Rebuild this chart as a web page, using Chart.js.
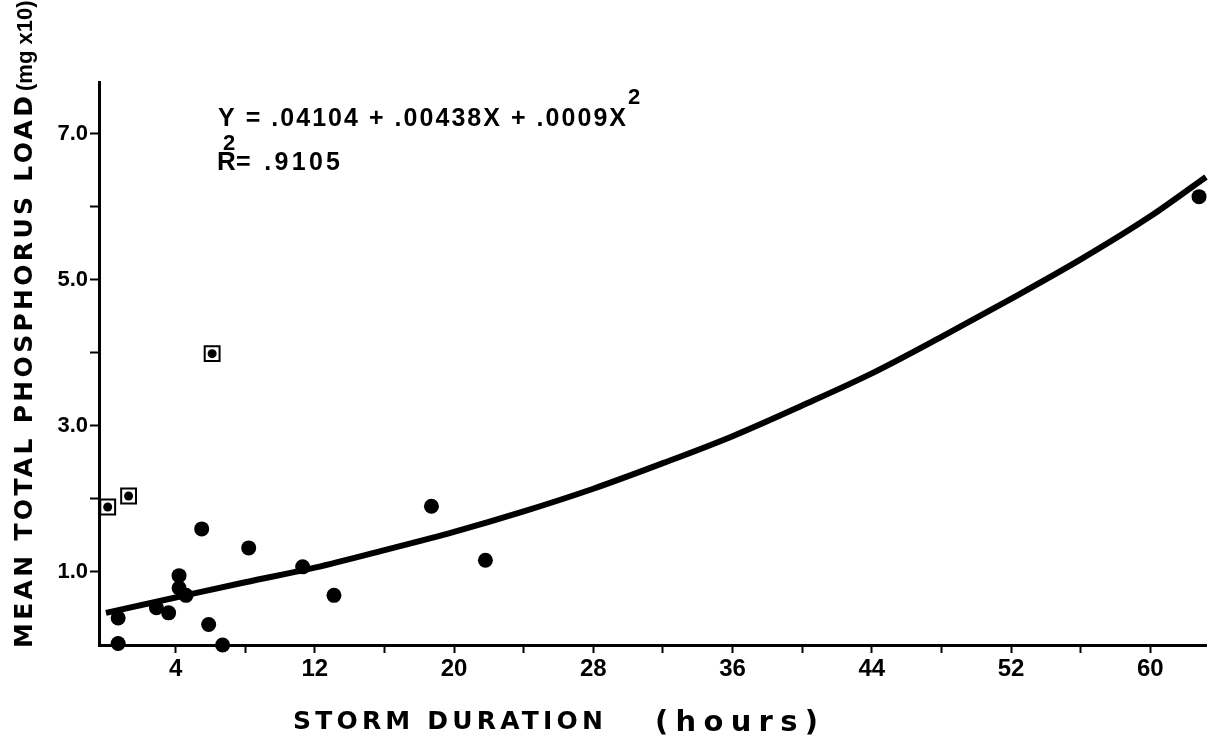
<!DOCTYPE html>
<html>
<head>
<meta charset="utf-8">
<script src="https://cdn.jsdelivr.net/npm/chart.js@4/dist/chart.umd.min.js"></script>
<style>
  html, body { margin: 0; padding: 0; background: #fff; }
  #wrap { width: 1208px; height: 740px; position: relative; }
</style>
</head>
<body>
<div id="wrap"><canvas id="grafico" width="1208" height="740"></canvas></div>
<script>
// valores (horas x carga media de fosforo total, mg x10)
const durationHours = [0.7, 0.7, 2.9, 3.6, 4.2, 4.2, 4.6, 5.5, 5.9, 6.7, 8.2, 11.3, 13.1, 18.7, 21.8, 62.8];
const phosphorusLoad = [0.37, 0.02, 0.51, 0.44, 0.95, 0.78, 0.68, 1.59, 0.28, 0.0, 1.33, 1.07, 0.68, 1.90, 1.16, 6.14];

// pontos marcados com quadrado
const flaggedHours = [0.1, 1.3, 6.1];
const flaggedLoad = [1.89, 2.04, 3.99];

// curva ajustada
const curveHours = [0, 4, 8, 12, 16, 20, 24, 28, 32, 36, 40, 44, 48, 52, 56, 60, 63.2];
const curveLoad = [0.44, 0.65, 0.86, 1.06, 1.30, 1.55, 1.83, 2.14, 2.49, 2.86, 3.28, 3.72, 4.22, 4.74, 5.28, 5.87, 6.41];

const xTickLabels = [4, 12, 20, 28, 36, 44, 52, 60];
const yTickLabels = [1, 3, 5, 7];

const FONT = "'Liberation Sans', Arial, sans-serif";
const WIDE = "'DejaVu Sans', sans-serif";

function toPoints(xs, ys) {
    return xs.map((x, i) => ({ x: x, y: ys[i] }));
}

// textos da figura (titulos dos eixos e equacao)
const paperText = {
    id: 'paperText',
    afterDraw(chart) {
        const ctx = chart.ctx;
        ctx.save();
        ctx.fillStyle = '#000';
        ctx.textBaseline = 'alphabetic';
        ctx.textAlign = 'left';

        function spaced(text, font, x, y, width) {
            ctx.font = font;
            ctx.letterSpacing = '0px';
            const w0 = ctx.measureText(text).width;
            const sp = width ? (width - w0) / (text.length - 1) : 0;
            ctx.letterSpacing = sp + 'px';
            ctx.fillText(text, x, y);
            ctx.letterSpacing = '0px';
        }

        // titulo do eixo y (rotacionado)
        ctx.save();
        ctx.translate(32, 648);
        ctx.rotate(-Math.PI / 2);
        spaced('MEAN TOTAL PHOSPHORUS LOAD', 'bold 25px ' + WIDE, 0, 0, 552);
        spaced('(mg x10)', 'bold 22px ' + FONT, 557, 0, 0);
        ctx.restore();

        // titulo do eixo x
        spaced('STORM DURATION', 'bold 25px ' + WIDE, 293, 729, 310);
        spaced('(hours)', 'bold 29px ' + WIDE, 655, 731, 163);

        // equacao
        spaced('Y = .04104 + .00438X + .0009X', 'bold 25px ' + FONT, 218, 126, 408);
        spaced('2', 'bold 22px ' + FONT, 628, 104, 0);
        spaced('R', 'bold 26px ' + FONT, 217, 170, 0);
        spaced('2', 'bold 22px ' + FONT, 223, 150, 0);
        spaced('= .9105', 'bold 25px ' + FONT, 236, 170, 104);

        ctx.restore();
    }
};

new Chart(document.getElementById('grafico'), {
    type: 'scatter',
    data: {
        datasets: [
            {
                label: 'ajuste',
                data: toPoints(curveHours, curveLoad),
                showLine: true,
                borderColor: '#000',
                borderWidth: 6,
                pointRadius: 0,
                tension: 0.4,
                cubicInterpolationMode: 'monotone',
                clip: false
            },
            {
                label: 'tempestades',
                data: toPoints(durationHours, phosphorusLoad),
                pointStyle: 'circle',
                pointRadius: 7.5,
                backgroundColor: '#000',
                borderColor: '#000',
                borderWidth: 0,
                clip: false
            },
            {
                label: 'marcados-centro',
                data: toPoints(flaggedHours, flaggedLoad),
                pointStyle: 'circle',
                pointRadius: 4.5,
                backgroundColor: '#000',
                borderWidth: 0,
                clip: false
            },
            {
                label: 'marcados',
                data: toPoints(flaggedHours, flaggedLoad),
                pointStyle: 'rect',
                pointRadius: 10.5,
                backgroundColor: '#fff',
                borderColor: '#000',
                borderWidth: 2,
                clip: false
            }
        ]
    },
    options: {
        responsive: false,
        animation: false,
        layout: { autoPadding: false, padding: { top: 82, right: 0, left: 0, bottom: 0 } },
        plugins: {
            legend: { display: false },
            tooltip: { enabled: false }
        },
        scales: {
            x: {
                type: 'linear',
                min: -0.4,
                max: 63.2,
                afterBuildTicks: (scale) => {
                    // marcas a cada 4 h; ultimo tick vazio na borda evita folga a direita
                    const marks = [];
                    for (let v = 4; v <= 60; v += 4) marks.push({ value: v });
                    marks.push({ value: scale.max });
                    scale.ticks = marks;
                },
                afterFit: (scale) => { scale.height = 95; },
                border: { display: true, color: '#000', width: 3 },
                grid: {
                    drawOnChartArea: false,
                    drawTicks: true,
                    tickLength: 8,
                    tickWidth: 2,
                    tickColor: (c) => (c.tick && c.tick.value > 60) ? 'rgba(0,0,0,0)' : '#000'
                },
                ticks: {
                    autoSkip: false,
                    maxRotation: 0,
                    padding: 2,
                    color: '#000',
                    font: { family: FONT, size: 24, weight: 'bold' },
                    callback: (v) => xTickLabels.includes(v) ? String(v) : ''
                }
            },
            y: {
                type: 'linear',
                min: 0,
                max: 7.71,
                afterBuildTicks: (scale) => {
                    scale.ticks = scale.ticks.filter(t => t.value > 0 && Number.isInteger(t.value));
                },
                afterFit: (scale) => { scale.width = 99; },
                border: { display: true, color: '#000', width: 3 },
                grid: {
                    drawOnChartArea: false,
                    drawTicks: true,
                    tickLength: 9,
                    tickWidth: 2,
                    tickColor: '#000'
                },
                ticks: {
                    stepSize: 1,
                    autoSkip: false,
                    padding: 2,
                    color: '#000',
                    font: { family: FONT, size: 22, weight: 'bold' },
                    callback: (v) => yTickLabels.includes(v) ? v.toFixed(1) : ''
                }
            }
        }
    },
    plugins: [paperText]
});
</script>
</body>
</html>
